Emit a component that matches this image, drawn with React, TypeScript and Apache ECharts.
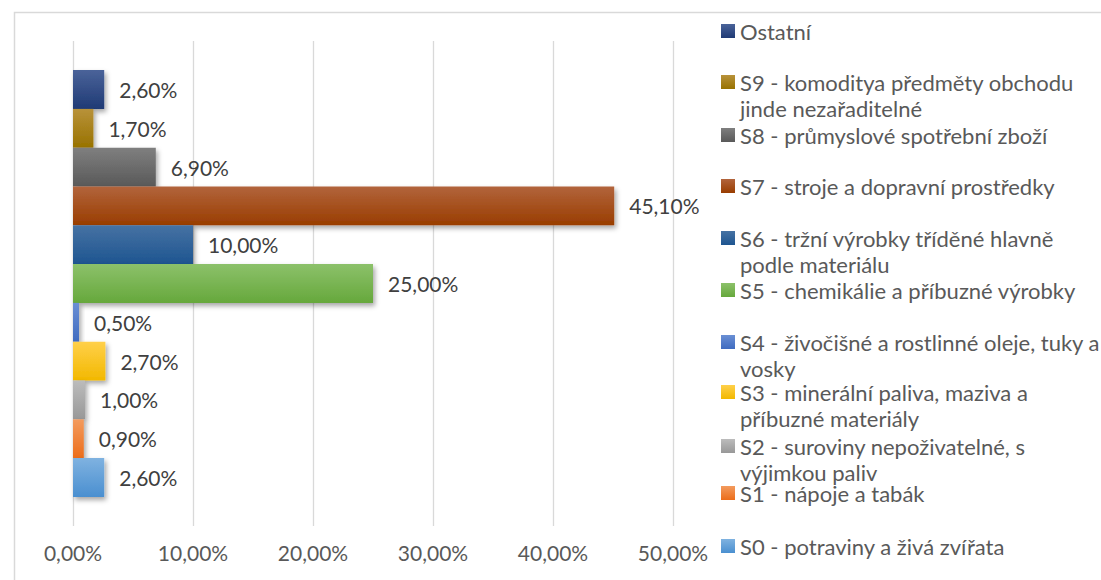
import React, { useEffect, useRef } from "react";
import * as echarts from "echarts";

const seriesNames: string[] = [
  "Ostatní",
  "S9 - komoditya předměty obchodu\njinde nezařaditelné",
  "S8 - průmyslové spotřební zboží",
  "S7 - stroje a dopravní prostředky",
  "S6 - tržní výrobky tříděné hlavně\npodle materiálu",
  "S5 - chemikálie a příbuzné výrobky",
  "S4 - živočišné a rostlinné oleje, tuky a\nvosky",
  "S3 - minerální paliva, maziva a\npříbuzné materiály",
  "S2 - suroviny nepoživatelné, s\nvýjimkou paliv",
  "S1 - nápoje a tabák",
  "S0 - potraviny a živá zvířata",
];
const seriesValues: number[] = [2.6, 1.7, 6.9, 45.1, 10.0, 25.0, 0.5, 2.7, 1.0, 0.9, 2.6];
const lightColors: string[] = ["#4a6399", "#b8923a", "#7f7f7f", "#b2643c", "#4672a3", "#8cc16a", "#6a8fd4", "#ffd04a", "#bcbcbc", "#f39b5e", "#7fb2e0"];
const darkColors: string[] = ["#1f3a75", "#987200", "#595959", "#993d00", "#1e5590", "#66a83c", "#3f6bc0", "#f2b800", "#989898", "#ec6d1a", "#4a8fd0"];
const legendCenters: number[] = [31, 82, 135, 186, 238, 290, 342, 392, 446, 493, 546];
const xTicks: number[] = [0, 10, 20, 30, 40, 50];

const FONT = "Lato, 'Open Sans', sans-serif";

const fmt = (v: number) => v.toFixed(2).replace(".", ",") + "%";

export default function App() {
  const ref = useRef<HTMLDivElement>(null);
  useEffect(() => {
    if (!ref.current) return;
    const chart = echarts.init(ref.current, null, { renderer: "svg" });
    const LINE = 26;
    const legends = seriesNames.map((name, i) => {
      const twoLine = name.includes("\n");
      const boxH = twoLine ? 3 * LINE : LINE;
      const top = legendCenters[i] - boxH / 2;
      return {
        orient: "vertical",
        left: 721,
        top: top,
        padding: 0,
        itemWidth: 14,
        itemHeight: 14,
        itemGap: 0,
        icon: "rect",
        selectedMode: false,
        formatter: (n: string) => (n.includes("\n") ? "\n" + n : n),
        textStyle: {
          fontFamily: FONT,
          fontSize: 22,
          color: "#595959",
          lineHeight: LINE,
        },
        data: [name],
      };
    });
    chart.setOption({
      animation: false,
      backgroundColor: "#ffffff",
      textStyle: { fontFamily: FONT },
      grid: { left: 73, right: 428, top: 41, bottom: 54, containLabel: false },
      legend: legends,
      xAxis: {
        type: "value",
        min: 0,
        max: 50,
        interval: 10,
        axisLine: { show: false },
        axisTick: { show: false },
        splitLine: { show: true, lineStyle: { color: "#d9d9d9", width: 1.3 } },
        axisLabel: {
          margin: 16,
          fontFamily: FONT,
          fontSize: 21,
          color: "#595959",
          formatter: (v: number) => (xTicks.includes(v) ? fmt(v) : ""),
        },
      },
      yAxis: {
        type: "category",
        data: [""],
        axisLine: { show: false },
        axisTick: { show: false },
        axisLabel: { show: false },
      },
      graphic: [
        {
          type: "rect",
          shape: { x: 14.5, y: 12.5, width: 1200, height: 700 },
          style: { fill: "none", stroke: "#d9d9d9", lineWidth: 1.5 },
          z: 0,
          silent: true,
        },
      ],
      series: seriesNames.map((name, i) => ({
        type: "bar",
        name,
        data: [seriesValues[i]],
        barGap: "0%",
        barCategoryGap: "12%",
        itemStyle: {
          color: new echarts.graphic.LinearGradient(0, 0, 0, 1, [
            { offset: 0, color: lightColors[i] },
            { offset: 1, color: darkColors[i] },
          ]),
          shadowColor: "rgba(0,0,0,0.35)",
          shadowBlur: 5,
          shadowOffsetX: 2,
          shadowOffsetY: 3,
        },
        label: {
          show: true,
          position: "right",
          distance: 15,
          fontFamily: FONT,
          fontSize: 21,
          color: "#404040",
          formatter: (p: any) => fmt(p.value),
        },
      })),
    });
    return () => chart.dispose();
  }, []);
  return (
    <div
      ref={ref}
      style={{ position: "absolute", left: 0, top: 0, width: 1101, height: 580 }}
    />
  );
}
